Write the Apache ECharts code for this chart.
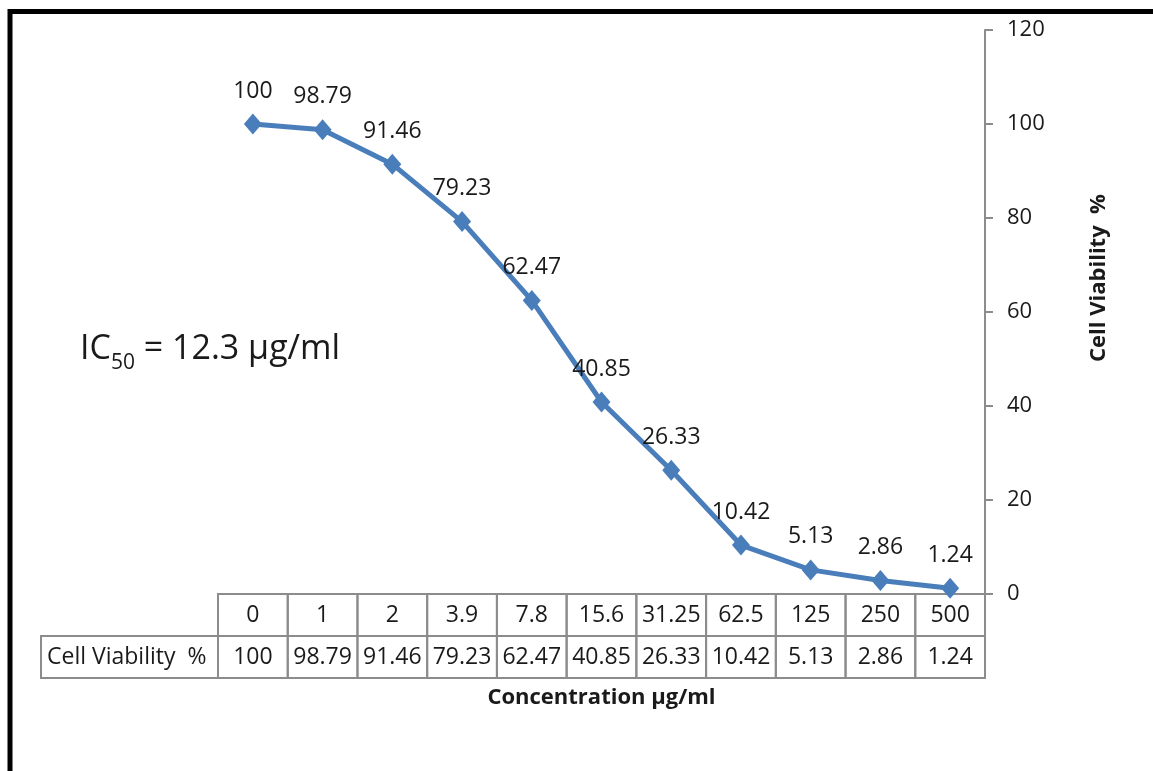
<!DOCTYPE html>
<html>
<head>
<meta charset="utf-8">
<title>Cell Viability</title>
<script src="https://cdn.jsdelivr.net/npm/echarts@6/dist/echarts.min.js"></script>
<style>
  html, body { margin: 0; padding: 0; background: #fff; }
  #chart { width: 1153px; height: 771px; }
</style>
</head>
<body>
<div id="chart"></div>
<script>
// Concentrations tested (µg/ml) and the measured cell viability (%)
const concentrations = ['0', '1', '2', '3.9', '7.8', '15.6', '31.25', '62.5', '125', '250', '500'];
const viability = [100, 98.79, 91.46, 79.23, 62.47, 40.85, 26.33, 10.42, 5.13, 2.86, 1.24];
const yMin = 0, yMax = 120, yStep = 20;
const rowTitle = 'Cell Viability  %';

const FONT = '"Open Sans", "Liberation Sans", sans-serif';
const TEXT = '#1a1a1a';
const GRID_GRAY = '#8c8c8c';
const BLUE = '#4A7EBB';

const chart = echarts.init(document.getElementById('chart'), null, { renderer: 'canvas' });

// Data table under the x axis: one column per concentration
function renderTable(params, api) {
  const i = api.value(0);
  const base = api.coord([i, yMin]);
  const w = api.size([1, 0])[0];
  const x0 = base[0] - w / 2;
  const y0 = base[1];
  const h1 = 42, h2 = 42;
  const line = { stroke: GRID_GRAY, lineWidth: 2, fill: null };
  const txt = (x, y, s) => ({
    type: 'text',
    style: { x: x, y: y, text: s, fill: TEXT, font: '23px ' + FONT, align: 'center', verticalAlign: 'middle' }
  });
  const children = [
    { type: 'rect', shape: { x: x0, y: y0, width: w, height: h1 }, style: line },
    { type: 'rect', shape: { x: x0, y: y0 + h1, width: w, height: h2 }, style: line },
    txt(base[0], y0 + h1 / 2, concentrations[i]),
    txt(base[0], y0 + h1 + h2 / 2, String(viability[i]))
  ];
  if (i === 0) {
    const hw = 177;
    children.push(
      { type: 'rect', shape: { x: x0 - hw, y: y0 + h1, width: hw, height: h2 }, style: line },
      {
        type: 'text',
        style: { x: x0 - hw + 6, y: y0 + h1 + h2 / 2, text: rowTitle, fill: TEXT, font: '23px ' + FONT, align: 'left', verticalAlign: 'middle' }
      }
    );
  }
  return { type: 'group', children: children };
}

const option = {
  backgroundColor: '#fff',
  animation: false,
  grid: { left: 218, right: 168, top: 30, bottom: 177 },
  xAxis: {
    type: 'category',
    data: concentrations,
    boundaryGap: true,
    axisLine: { show: true, lineStyle: { color: GRID_GRAY, width: 2 } },
    axisTick: { show: false },
    axisLabel: { show: false },
    splitLine: { show: false },
    name: 'Concentration µg/ml',
    nameLocation: 'middle',
    nameGap: 93,
    nameTextStyle: { fontFamily: FONT, fontSize: 22, fontWeight: 'bold', color: TEXT }
  },
  yAxis: {
    type: 'value',
    position: 'right',
    min: yMin, max: yMax, interval: yStep,
    axisLine: { show: true, lineStyle: { color: GRID_GRAY, width: 2 } },
    axisTick: { show: true, length: 8, lineStyle: { color: GRID_GRAY, width: 2 } },
    axisLabel: { margin: 22, fontFamily: FONT, fontSize: 22, color: TEXT },
    splitLine: { show: false },
    name: 'Cell Viability  %',
    nameLocation: 'middle',
    nameRotate: 90,
    nameGap: 103,
    nameTextStyle: { fontFamily: FONT, fontSize: 22, fontWeight: 'bold', color: TEXT, padding: [0, 0, 0, 68] }
  },
  graphic: [
    {
      // outer frame
      type: 'rect', silent: true, z: 100,
      shape: { x: 10, y: 11.5, width: 1200, height: 800 },
      style: { fill: null, stroke: '#000', lineWidth: 5 }
    },
    {
      type: 'text', left: 80, top: 332, silent: true,
      style: {
        text: '{m|IC}{s|50}{m| = 12.3 µg/ml}',
        rich: {
          m: { fontFamily: FONT, fontSize: 34, fill: TEXT, lineHeight: 44, verticalAlign: 'bottom' },
          s: { fontFamily: FONT, fontSize: 21, fill: TEXT, lineHeight: 44, verticalAlign: 'bottom', padding: [0, 0, -8, 0] }
        }
      }
    }
  ],
  series: [
    {
      type: 'custom',
      clip: false,
      silent: true,
      z: 1,
      data: viability.map((v, i) => [i, v]),
      encode: { x: 0, y: 1 },
      renderItem: renderTable
    },
    {
      type: 'line',
      data: viability,
      z: 5,
      symbol: 'diamond',
      symbolSize: [18, 21],
      lineStyle: { color: BLUE, width: 5 },
      itemStyle: { color: BLUE },
      label: {
        show: true,
        position: 'top',
        distance: 11,
        fontFamily: FONT,
        fontSize: 23,
        color: TEXT
      }
    }
  ]
};

chart.setOption(option);
</script>
</body>
</html>
